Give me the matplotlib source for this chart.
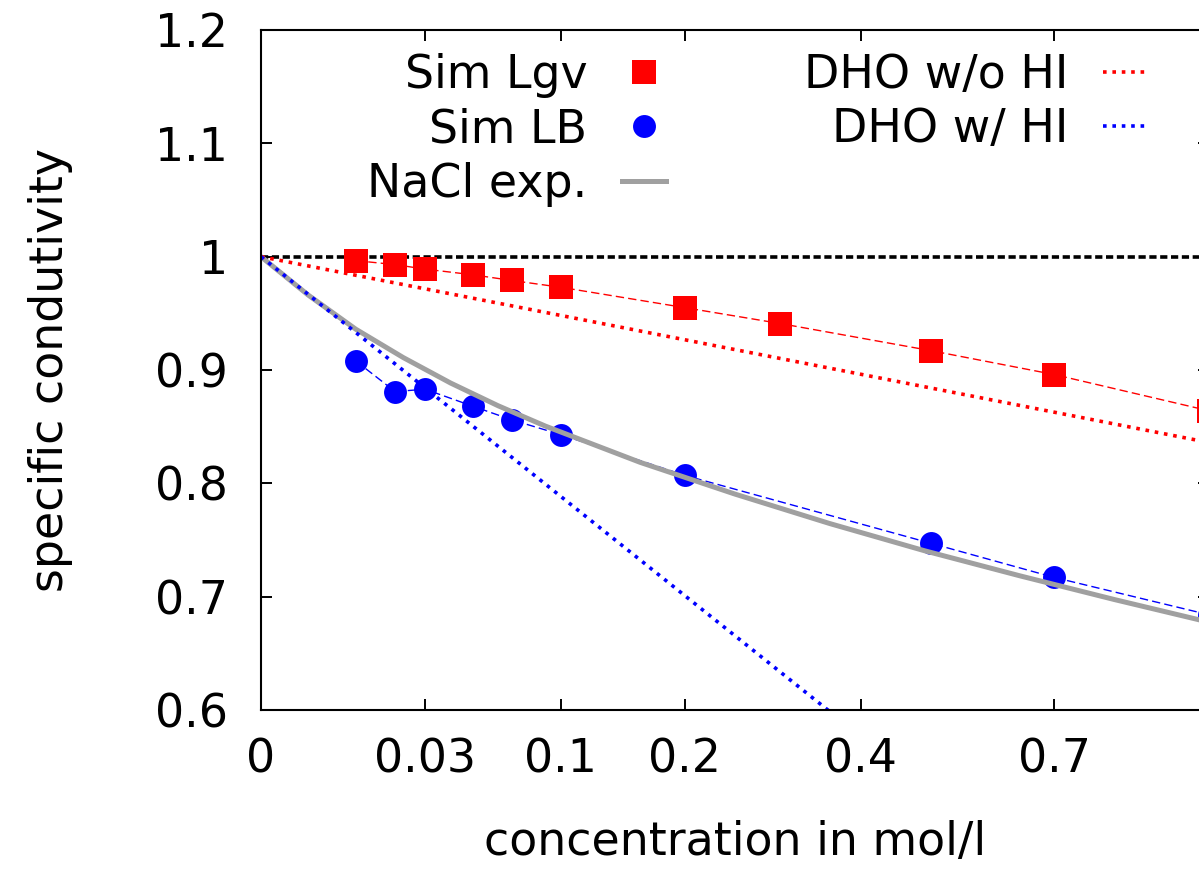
import numpy as np
import matplotlib
matplotlib.use('Agg')
import matplotlib.pyplot as plt
from matplotlib.ticker import FuncFormatter

plt.rcParams['font.family'] = ['DejaVu Sans']
plt.rcParams['font.size'] = 33

# simulation data (concentration in mol/l, specific conductivity)
conc_lgv = [0.01, 0.02, 0.03, 0.05, 0.07, 0.1, 0.2, 0.3, 0.5, 0.7, 1.0]
sim_lgv = [0.9965, 0.993, 0.989, 0.984, 0.979, 0.973, 0.955, 0.941, 0.917, 0.896, 0.864]

conc_lb = [0.01, 0.02, 0.03, 0.05, 0.07, 0.1, 0.2, 0.5, 0.7, 1.0]
sim_lb = [0.908, 0.881, 0.883, 0.868, 0.856, 0.843, 0.807, 0.747, 0.717, 0.684]

conc_nacl = [0, 0.000625, 0.0025, 0.005625, 0.01, 0.0225, 0.04, 0.0625, 0.09,
             0.16, 0.25, 0.36, 0.49, 0.64, 0.81, 1.0]
nacl_exp = [1.0, 0.983, 0.966, 0.951, 0.936, 0.911, 0.8885, 0.8685, 0.8505,
            0.8185, 0.7905, 0.7645, 0.7405, 0.7185, 0.6975, 0.6775]

# Debye-Hueckel-Onsager lines
conc_dho = [0, 1.0]
dho_wo_hi = [1.0, 0.836]
dho_w_hi = [1.0, 0.331]

xticks = [0, 0.03, 0.1, 0.2, 0.4, 0.7]
xticklabels = ['0', '0.03', '0.1', '0.2', '0.4', '0.7']
yticks = [0.6, 0.7, 0.8, 0.9, 1.0, 1.1, 1.2]

fig = plt.figure(figsize=(11.99, 8.69), dpi=100)
ax = fig.add_axes([0.21768, 0.18297, 0.79066, 0.78251])
ax.set_xscale('function', functions=(np.sqrt, np.square))

ax.axhline(1.0, color='black', lw=2.6, linestyle=(0, (2.0, 1.0)), zorder=1)

ax.plot(conc_lgv, sim_lgv, color='red', lw=1.0, dashes=(6, 3))
ax.plot(conc_lgv, sim_lgv, 's', color='red', ms=17, mew=0, label='Sim Lgv')
ax.plot(conc_lb, sim_lb, color='blue', lw=1.0, dashes=(6, 3))
ax.plot(conc_lb, sim_lb, 'o', color='blue', ms=16.5, mew=0, label='Sim LB')
ax.plot(conc_nacl, nacl_exp, color='#a0a0a0', lw=3.6, label='NaCl exp.')
ax.plot(conc_dho, dho_wo_hi, color='red', lw=2.6, linestyle=(0, (1, 1.6)), label='DHO w/o HI')
ax.plot(conc_dho, dho_w_hi, color='blue', lw=2.6, linestyle=(0, (1, 1.6)), label='DHO w/ HI')

ax.set_xlim(0, 1.0)
ax.set_ylim(0.6, 1.2)
ax.set_xticks(xticks)
ax.set_xticklabels(xticklabels)
ax.set_yticks(yticks)
ax.yaxis.set_major_formatter(FuncFormatter(lambda v, p: f'{v:g}'))
ax.minorticks_off()
ax.tick_params(axis='both', direction='in', length=8, width=1.4, top=True, right=True)
ax.tick_params(axis='x', pad=20)
ax.tick_params(axis='y', pad=24)
for s in ax.spines.values():
    s.set_linewidth(1.5)

ax.set_xlabel('concentration in mol/l')
ax.xaxis.set_label_coords(0.5, (710 - 855) / 680)
ax.xaxis.label.set_va('baseline')
ax.set_ylabel('specific condutivity')
ax.yaxis.set_label_coords((63 - 261) / 948, 0.5)
ax.yaxis.label.set_va('baseline')

ax.legend(ncol=2, markerfirst=False, frameon=False, loc='upper right',
          bbox_to_anchor=(0.9346, 0.9657), borderaxespad=0, borderpad=0,
          handlelength=0.96, handletextpad=0.76, columnspacing=3.0,
          labelspacing=0.2, fontsize=33)

fig.savefig('out.png', dpi=100)
